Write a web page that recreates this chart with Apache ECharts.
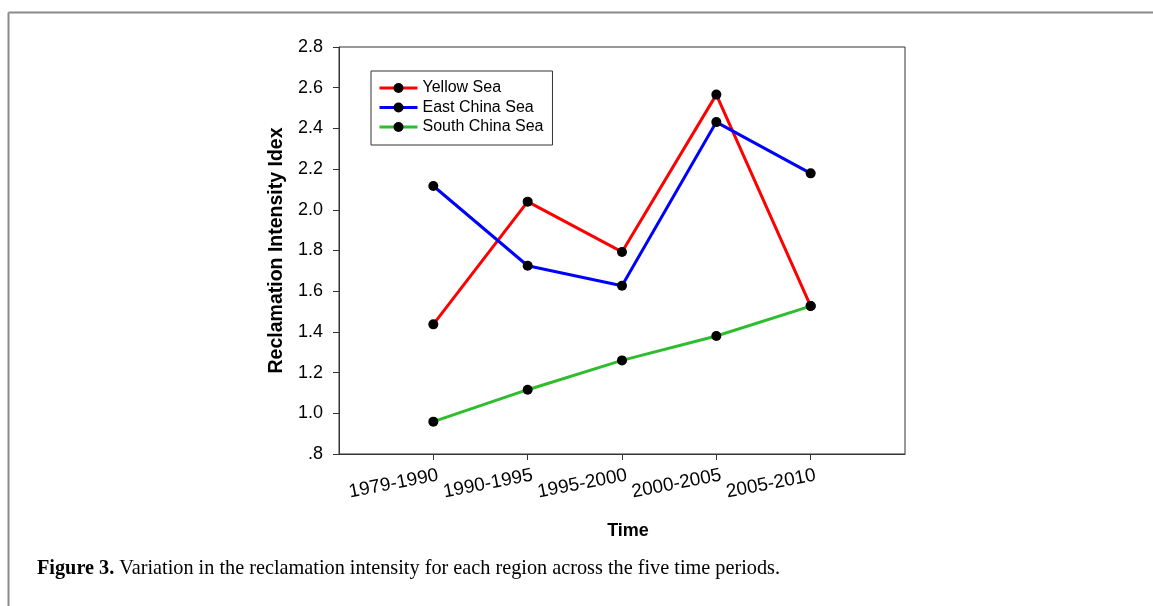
<!DOCTYPE html>
<html>
<head>
<meta charset="utf-8">
<script src="https://cdn.jsdelivr.net/npm/echarts@6/dist/echarts.min.js"></script>
<style>
  html, body { margin: 0; padding: 0; background: #fff; }
  #chart { width: 1153px; height: 606px; }
</style>
</head>
<body>
<div id="chart"></div>
<script>
// Time periods along the x axis
const periods = ['1979-1990', '1990-1995', '1995-2000', '2000-2005', '2005-2010'];

// Reclamation intensity index for each sea area
const yellowSea = [1.437, 2.040, 1.793, 2.566, 1.527];
const eastChinaSea = [2.117, 1.725, 1.627, 2.431, 2.179];
const southChinaSea = [0.959, 1.116, 1.260, 1.380, 1.527];

// Y tick labels from 0.8 to 2.8
const yTickLabels = ['.8', '1.0', '1.2', '1.4', '1.6', '1.8', '2.0', '2.2', '2.4', '2.6', '2.8'];

const seriesNames = ['Yellow Sea', 'East China Sea', 'South China Sea'];
const seriesColors = ['#ff0000', '#0000ff', '#2ebd2e'];
const seriesValues = [yellowSea, eastChinaSea, southChinaSea];

const chart = echarts.init(document.getElementById('chart'), null, { renderer: 'canvas' });

const sans = 'Arial, "Liberation Sans", sans-serif';
const serif = '"Liberation Serif", "Times New Roman", serif';

const option = {
  animation: false,
  backgroundColor: '#fff',
  grid: {
    left: 339, top: 47, right: 248, bottom: 152,
    show: true, borderColor: '#333', borderWidth: 1, backgroundColor: 'transparent'
  },
  legend: {
    orient: 'vertical',
    left: 371, top: 71,
    data: seriesNames,
    itemWidth: 38, itemHeight: 12.5, itemGap: 3.5,
    borderColor: '#333', borderWidth: 1,
    padding: [9, 9, 10, 7],
    lineStyle: { width: 3 },
    textStyle: { fontFamily: sans, fontSize: 16, color: '#000', lineHeight: 16 },
    selectedMode: false
  },
  xAxis: {
    type: 'value',
    min: 0, max: 6, interval: 1,
    name: 'Time', nameLocation: 'middle', nameGap: 68,
    nameTextStyle: { fontFamily: sans, fontSize: 18, fontWeight: 'bold', color: '#000', padding: [0, 0, 0, 12] },
    splitLine: { show: false },
    axisLine: { lineStyle: { color: '#333', width: 1 } },
    axisTick: { length: 6, lineStyle: { color: '#333' }, customValues: [1, 2, 3, 4, 5] },
    axisLabel: {
      customValues: [1, 2, 3, 4, 5],
      rotate: 11, margin: 22,
      padding: [0, -5, 0, 0],
      fontFamily: sans, fontSize: 19, color: '#000',
      formatter: v => periods[Math.round(v) - 1] || ''
    }
  },
  yAxis: {
    type: 'value',
    min: 0.8, max: 2.8, interval: 0.2,
    name: 'Reclamation Intensity Idex', nameLocation: 'middle', nameGap: 52,
    nameTextStyle: { fontFamily: sans, fontSize: 19.5, fontWeight: 'bold', color: '#000' },
    splitLine: { show: false },
    axisLine: { show: true, lineStyle: { color: '#333', width: 1 } },
    axisTick: { show: true, length: 6, lineStyle: { color: '#333' } },
    axisLabel: {
      margin: 16,
      fontFamily: sans, fontSize: 18, color: '#000',
      formatter: v => yTickLabels[Math.round((v - 0.8) / 0.2)]
    }
  },
  series: seriesNames.map((name, k) => ({
    name,
    type: 'line',
    data: seriesValues[k].map((v, i) => [i + 1, v]),
    symbol: 'circle',
    symbolSize: 10,
    color: seriesColors[k],
    lineStyle: { color: seriesColors[k], width: 3 },
    itemStyle: { color: '#000', borderWidth: 0 },
    z: 2 + k
  })),
  graphic: [
    // figure frame: left and top rules
    { type: 'line', shape: { x1: 8.5, y1: 12.5, x2: 8.5, y2: 606 }, style: { stroke: '#8a8a8a', lineWidth: 2 } },
    { type: 'line', shape: { x1: 8.5, y1: 12.5, x2: 1153, y2: 12.5 }, style: { stroke: '#8a8a8a', lineWidth: 2 } },
    {
      type: 'text', left: 37, top: 559,
      style: {
        text: '{b|Figure 3.} Variation in the reclamation intensity for each region across the five time periods.',
        font: '20.25px ' + serif,
        fill: '#000',
        rich: {
          b: { fontFamily: serif, fontSize: 20.25, fontWeight: 'bold', fill: '#000' }
        }
      }
    }
  ]
};

chart.setOption(option);
</script>
</body>
</html>
